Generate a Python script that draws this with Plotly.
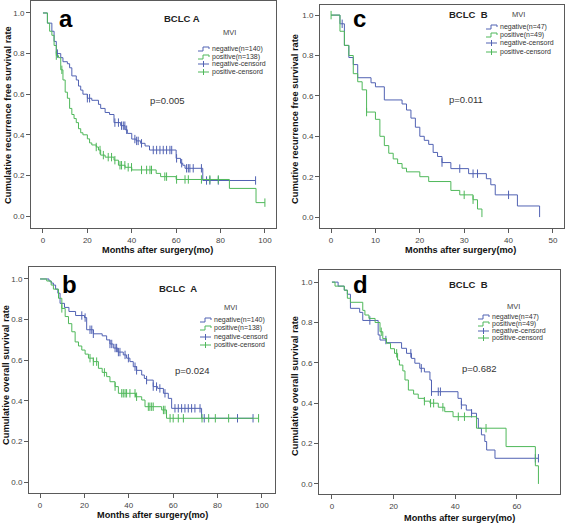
import numpy as np
import plotly.graph_objects as go

W, H = 567, 524
BLUE = "#5162b3"
GREEN = "#4fb85a"

# ---------------- data ----------------
# Panel a: recurrence-free survival, BCLC A
a_neg_t = [2, 4, 5, 6, 8, 9, 11, 12, 13, 15, 16, 17, 18, 20, 22, 25, 26, 28, 30, 32, 35, 37, 38, 40, 42, 44, 46, 48, 60, 62, 63, 64, 72]
a_neg_s = [0.95, 0.91, 0.86, 0.80, 0.78, 0.76, 0.75, 0.73, 0.69, 0.67, 0.64, 0.62, 0.60, 0.58, 0.57, 0.55, 0.53, 0.51, 0.50, 0.46, 0.445, 0.425, 0.407, 0.379, 0.37, 0.358, 0.345, 0.325, 0.284, 0.26, 0.25, 0.235, 0.175]
a_neg_c = [6.5, 20, 21, 32.4, 34, 35.4, 36.2, 36.9, 37.7, 41.4, 42.2, 42.9, 44.4, 49.7, 51.2, 52.7, 54.2, 55.7, 57.2, 58, 60.2, 62.5, 64.7, 65.5, 66.2, 67.7, 71.4, 73.7, 75.2, 79, 95.8]
a_pos_t = [2, 3, 4, 5, 6, 7, 8, 9, 10, 11, 12, 13, 14, 15, 16, 17, 18, 20, 21, 22, 24, 25, 26, 28, 32, 34, 37, 40, 51, 53, 60, 84, 96]
a_pos_s = [0.95, 0.91, 0.89, 0.84, 0.79, 0.78, 0.72, 0.67, 0.61, 0.58, 0.53, 0.50, 0.48, 0.46, 0.43, 0.41, 0.40, 0.38, 0.36, 0.35, 0.34, 0.325, 0.30, 0.29, 0.275, 0.25, 0.24, 0.227, 0.21, 0.194, 0.18, 0.136, 0.066]
a_pos_c = [6, 8.5, 24, 25.7, 27.2, 29.4, 30.9, 32.4, 34.7, 35.4, 36.9, 38.4, 39.9, 44.4, 46.7, 48.2, 48.9, 54.9, 55.7, 60.2, 64, 65.5, 71.4, 75.2, 79, 100]

# Panel c: recurrence-free survival, BCLC B
c_neg_t = [2, 3, 4, 5, 6, 9, 10, 12, 16, 17, 18, 19, 20, 21, 22, 23, 24, 25, 27, 31, 35, 36, 37, 42, 47]
c_neg_s = [0.957, 0.85, 0.79, 0.755, 0.69, 0.665, 0.645, 0.58, 0.56, 0.53, 0.49, 0.445, 0.40, 0.38, 0.36, 0.32, 0.30, 0.27, 0.24, 0.215, 0.19, 0.16, 0.11, 0.055, 0.0]
c_neg_c = [2.5, 25, 29, 32, 33, 40]
c_pos_t = [2, 3, 4, 5, 6, 7, 8, 10, 11, 12, 13, 14, 15, 16, 17, 20, 22, 27, 29, 32, 33, 34]
c_pos_s = [0.92, 0.85, 0.80, 0.71, 0.67, 0.63, 0.52, 0.484, 0.40, 0.354, 0.316, 0.288, 0.265, 0.242, 0.224, 0.20, 0.176, 0.132, 0.11, 0.086, 0.04, 0.0]
c_pos_c = [0, 8, 30, 32]

# Panel b: overall survival, BCLC A
b_neg_t = [4, 5, 6, 7, 8, 9, 11, 13, 16, 20, 21, 24, 28, 30, 31.5, 33, 35, 37.5, 39, 40.5, 42, 43.5, 45.8, 47, 48, 51, 53, 55.6, 57.8, 59.3, 72.8]
b_neg_s = [0.99, 0.98, 0.97, 0.95, 0.93, 0.88, 0.86, 0.84, 0.82, 0.81, 0.75, 0.73, 0.72, 0.70, 0.68, 0.66, 0.64, 0.626, 0.61, 0.593, 0.568, 0.55, 0.527, 0.51, 0.502, 0.47, 0.461, 0.437, 0.412, 0.363, 0.314]
b_neg_c = [18.8, 20.3, 22.5, 23.3, 24, 31.5, 32.3, 33.8, 34.5, 35.3, 36, 38.3, 39.8, 42.8, 43.5, 48, 51, 52.5, 54, 56.3, 60.8, 62.3, 63.8, 65.3, 66.8, 68.3, 69.8, 72.1, 74, 89, 96]
b_pos_t = [3, 5, 6, 8.3, 9.8, 11.3, 12.8, 14.3, 15.8, 17.3, 18.8, 20.3, 21.8, 24, 26.3, 28, 30, 31.5, 33.8, 35.3, 43, 45.8, 47.3, 54.8, 57]
b_pos_s = [0.99, 0.97, 0.95, 0.905, 0.855, 0.815, 0.78, 0.74, 0.69, 0.67, 0.65, 0.63, 0.61, 0.593, 0.56, 0.54, 0.519, 0.494, 0.47, 0.437, 0.42, 0.404, 0.371, 0.355, 0.314]
b_pos_c = [9.8, 22.5, 24, 25.5, 29, 33.8, 36.8, 37.5, 38.3, 39, 40.5, 42.8, 43.5, 48.8, 49.5, 50.3, 51, 55.6, 56.3, 58.6, 60, 62.3, 64.6, 73, 76, 79, 85, 98.5]

# Panel d: overall survival, BCLC B
d_neg_t = [2, 4, 5, 6, 9, 10, 15, 15.6, 17.7, 22.6, 24.2, 25.8, 26.9, 28.5, 30, 31.8, 32.3, 40.9, 42, 43.6, 45.3, 46.9, 47.5, 48.5, 49.6, 50.2, 52.9]
d_neg_s = [0.98, 0.96, 0.94, 0.87, 0.85, 0.81, 0.738, 0.713, 0.70, 0.672, 0.647, 0.622, 0.598, 0.573, 0.555, 0.515, 0.457, 0.424, 0.391, 0.366, 0.35, 0.325, 0.276, 0.243, 0.21, 0.168, 0.127]
d_neg_c = [12.3, 17.5, 25.6, 29, 32.3, 34.5, 35.2, 42, 45.3, 66, 67]
d_pos_t = [1, 4, 5, 6, 10, 10.7, 12, 14, 15.6, 16.5, 17.7, 19, 20.3, 21.3, 21.9, 23, 23.7, 24.8, 26.5, 28, 30, 31.8, 34.5, 36.6, 39.3, 46.9, 56.5, 66, 67]
d_pos_s = [0.98, 0.96, 0.92, 0.90, 0.86, 0.837, 0.82, 0.80, 0.754, 0.72, 0.697, 0.67, 0.647, 0.614, 0.589, 0.56, 0.515, 0.465, 0.445, 0.424, 0.41, 0.40, 0.38, 0.358, 0.333, 0.276, 0.185, 0.09, 0.0]
d_pos_c = [16, 21, 30, 32, 33, 36, 41, 43, 50]

x_ticks_a = [0, 20, 40, 60, 80, 100]
x_ticks_c = [0, 10, 20, 30, 40, 50]
x_ticks_d = [0, 20, 40, 60]
y_ticks = [0.0, 0.2, 0.4, 0.6, 0.8, 1.0]

panels = [
    dict(key="a", neg=(a_neg_t, a_neg_s, a_neg_c), pos=(a_pos_t, a_pos_s, a_pos_c),
         n_neg=140, n_pos=138, group="BCLC A", p="p=0.005",
         ytitle="Cumulative recurrence free survival rate",
         box=(31, 276, 1, 228), xr=[-5.4, 105], yr=[-0.059, 1.059], xt=x_ticks_a),
    dict(key="c", neg=(c_neg_t, c_neg_s, c_neg_c), pos=(c_pos_t, c_pos_s, c_pos_c),
         n_neg=47, n_pos=49, group="BCLC  B", p="p=0.011",
         ytitle="Cumutive recurrence free survival rate",
         box=(320, 564, 5, 228), xr=[-2.5, 52.5], yr=[-0.054, 1.05], xt=x_ticks_c),
    dict(key="b", neg=(b_neg_t, b_neg_s, b_neg_c), pos=(b_pos_t, b_pos_s, b_pos_c),
         n_neg=140, n_pos=138, group="BCLC  A", p="p=0.024",
         ytitle="Cumulative overall survival rate",
         box=(29, 275, 267, 493), xr=[-5, 105.9], yr=[-0.054, 1.059], xt=x_ticks_a),
    dict(key="d", neg=(d_neg_t, d_neg_s, d_neg_c), pos=(d_pos_t, d_pos_s, d_pos_c),
         n_neg=47, n_pos=49, group="BCLC  B", p="p=0.682",
         ytitle="Cumulative overall survival rate",
         box=(319, 560, 270, 494), xr=[-4.2, 74], yr=[-0.05, 1.06], xt=x_ticks_d),
]

# text / legend placement in pixels (x, y)
text_pos = {
    "a": dict(letter=(66, 18), group=(182, 18), p=(167, 101), mvi=(229, 33), leg_x=198, leg_y=[49, 57, 64, 72],
              ytitle=(8, 115), xtitle=(157, 250)),
    "c": dict(letter=(359, 19), group=(468, 15), p=(466, 99), mvi=(518, 15), leg_x=486, leg_y=[27, 35, 43, 52],
              ytitle=(295, 119), xtitle=(460, 250)),
    "b": dict(letter=(69, 284), group=(178, 288), p=(192, 370), mvi=(230, 307), leg_x=200, leg_y=[320, 328, 337, 345],
              ytitle=(6, 375), xtitle=(152, 515)),
    "d": dict(letter=(360, 284), group=(468, 284), p=(479, 368), mvi=(513, 306), leg_x=478, leg_y=[317, 324, 331, 338],
              ytitle=(295, 386), xtitle=(459, 518)),
}


def px(x):
    return x / W


def py(y):
    return 1 - y / H


def step_xy(t, s, cens):
    end = max([t[-1]] + list(cens))
    x = [0] + list(t) + [end]
    y = [1.0] + list(s) + [s[-1]]
    return x, y


def cens_y(t, s, cens):
    t = np.array(t, dtype=float)
    s = np.array(s, dtype=float)
    idx = np.searchsorted(t, np.array(cens, dtype=float), side="right") - 1
    return [1.0 if i < 0 else float(s[i]) for i in idx]


fig = go.Figure()
annotations = []
shapes = []
FONT = "Liberation Sans, Arial, sans-serif"


def ann(text, x, y, size, color, xanchor="center", angle=0):
    return dict(text=text, x=px(x), y=py(y), xref="paper", yref="paper", xanchor=xanchor, yanchor="middle",
                showarrow=False, textangle=angle, font=dict(size=size, color=color, family=FONT))


for i, p in enumerate(panels, start=1):
    xa = "x" if i == 1 else f"x{i}"
    ya = "y" if i == 1 else f"y{i}"
    for (t, s, c), col, nm in [(p["neg"], BLUE, "negative"), (p["pos"], GREEN, "positive")]:
        x, y = step_xy(t, s, c)
        fig.add_trace(go.Scatter(x=x, y=y, mode="lines", line=dict(color=col, width=1, shape="hv"),
                                 xaxis=xa, yaxis=ya, showlegend=False, hoverinfo="skip", name=nm))
        fig.add_trace(go.Scatter(x=c, y=cens_y(t, s, c), mode="markers",
                                 marker=dict(symbol="line-ns", size=6, line=dict(width=1, color=col), color=col),
                                 xaxis=xa, yaxis=ya, showlegend=False, hoverinfo="skip", name=nm + "-censord"))
    x0, x1, y0, y1 = p["box"]
    axis_common = dict(showline=True, mirror=True, linecolor="#5a5a5a", linewidth=1,
                       ticks="outside", ticklen=4, tickcolor="#5a5a5a", showgrid=False, zeroline=False,
                       automargin=False, tickfont=dict(size=8, color="#444", family=FONT))
    fig.update_layout(**{
        ("xaxis" if i == 1 else f"xaxis{i}"): dict(domain=[px(x0), px(x1)], anchor=ya, range=p["xr"],
                                                   tickvals=p["xt"], **axis_common),
        ("yaxis" if i == 1 else f"yaxis{i}"): dict(domain=[py(y1), py(y0)], anchor=xa, range=p["yr"],
                                                   tickvals=y_ticks, tickformat=".1f", **axis_common),
    })
    tp = text_pos[p["key"]]
    annotations += [
        ann(f"<b>{p['key']}</b>", *tp["letter"], 24, "#000"),
        ann(f"<b>{p['group']}</b>", *tp["group"], 9.5, "#222"),
        ann(p["p"], *tp["p"], 9.5, "#333"),
        ann("MVI", *tp["mvi"], 7.5, "#444"),
        ann(f"<b>{p['ytitle']}</b>", *tp["ytitle"], 9.3, "#111", angle=-90),
        ann("<b>Months after surgery(mo)</b>", *tp["xtitle"], 9.2, "#111"),
    ]
    labels = [f"negative(n={p['n_neg']})", f"positive(n={p['n_pos']})", "negative-censord", "positive-censord"]
    cols = [BLUE, GREEN, BLUE, GREEN]
    lx = tp["leg_x"]
    for k, (lab, col, ly) in enumerate(zip(labels, cols, tp["leg_y"])):
        annotations.append(ann(lab, lx + 12, ly, 7, "#333", xanchor="left"))
        if k < 2:
            path = (f"M {px(lx)},{py(ly + 2)} L {px(lx + 5)},{py(ly + 2)} L {px(lx + 5)},{py(ly - 2)} "
                    f"L {px(lx + 11)},{py(ly - 2)} L {px(lx + 11)},{py(ly)}")
            shapes.append(dict(type="path", path=path, xref="paper", yref="paper", line=dict(color=col, width=1)))
        else:
            shapes.append(dict(type="line", x0=px(lx), x1=px(lx + 11), y0=py(ly), y1=py(ly),
                               xref="paper", yref="paper", line=dict(color=col, width=1)))
            shapes.append(dict(type="line", x0=px(lx + 5.5), x1=px(lx + 5.5), y0=py(ly - 3), y1=py(ly + 3),
                               xref="paper", yref="paper", line=dict(color=col, width=1)))

fig.update_layout(width=W, height=H, margin=dict(l=0, r=0, t=0, b=0, pad=0, autoexpand=False),
                  paper_bgcolor="white", plot_bgcolor="white", annotations=annotations, shapes=shapes,
                  showlegend=False, font=dict(family=FONT))
fig.write_html("out.html", config={"displayModeBar": False, "staticPlot": True},
               post_script="document.body.style.margin='0px';document.body.style.overflow='hidden';")
